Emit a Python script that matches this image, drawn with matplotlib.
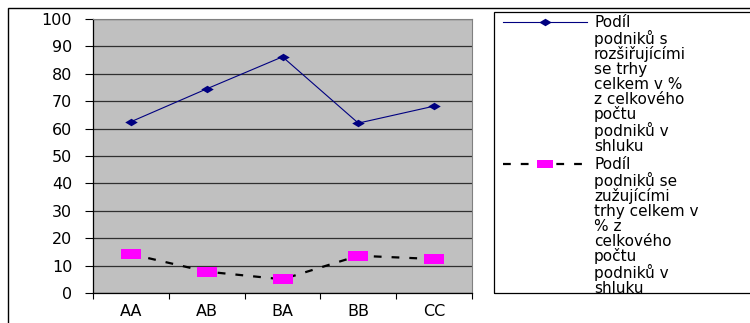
import numpy as np
import matplotlib.pyplot as plt
from matplotlib.patches import Rectangle
from matplotlib.lines import Line2D

categories = ["AA", "AB", "BA", "BB", "CC"]
rostouci = [62.5, 74.5, 86.2, 62.0, 68.2]
zuzujici = [14.2, 7.8, 5.0, 13.6, 12.4]
labels = [
    "Podíl\npodniků s\nrozšiřujícími\nse trhy\ncelkem v %\nz celkového\npočtu\npodniků v\nshluku",
    "Podíl\npodniků se\nzužujícími\ntrhy celkem v\n% z\ncelkového\npočtu\npodniků v\nshluku",
]

plt.rcParams['font.family'] = ['DejaVu Sans']

W, H = 750, 323
fig = plt.figure(figsize=(W / 100, H / 100), dpi=100)

# outer chart frame (runs off the right and bottom edge)
fig.patches.append(Rectangle((8 / W, -0.2), 2, 1.2 - 8 / H, transform=fig.transFigure,
                             fill=False, edgecolor='black', linewidth=1.0))

ax = fig.add_axes([93 / W, 30 / H, 379 / W, 274 / H])
ax.set_facecolor('#c0c0c0')

# flattened marker shapes
diamond = [(-1, 0), (0, 0.6), (1, 0), (0, -0.6), (-1, 0)]
rect = [(-1, -0.5), (1, -0.5), (1, 0.5), (-1, 0.5), (-1, -0.5)]

x = np.arange(len(categories))
ax.plot(x, rostouci, color='#000080', linewidth=0.8,
        marker=diamond, markersize=9, markerfacecolor='#000080', markeredgewidth=0)
ax.plot(x, zuzujici, color='black', linewidth=1.6, linestyle=(0, (3.5, 4.5)),
        marker=rect, markersize=14, markerfacecolor='#ff00ff', markeredgewidth=0)

ax.set_xlim(-0.5, len(categories) - 0.5)
ax.set_ylim(0, 100)
ax.set_yticks(np.arange(0, 101, 10))
ax.set_xticks(x)
ax.set_xticklabels(categories)
ax.set_xticks(np.arange(-0.5, len(categories)), minor=True)
ax.tick_params(axis='x', which='major', length=0, pad=8, labelsize=11.5)
ax.tick_params(axis='x', which='minor', length=4, width=0.8, direction='out')
ax.tick_params(axis='y', length=6, width=0.8, pad=9, labelsize=11.5)

ax.grid(axis='y', color='#303030', linewidth=0.9)
ax.set_axisbelow(True)
for s in ['top', 'right']:
    ax.spines[s].set_color('#808080')
for s in ['left', 'bottom']:
    ax.spines[s].set_color('black')
    ax.spines[s].set_linewidth(0.9)

# legend drawn by hand so the handles sit on the first text line
fig.patches.append(Rectangle((494 / W, 30 / H), 1, 281 / H, transform=fig.transFigure,
                             fill=False, edgecolor='black', linewidth=0.9))
styles = [
    dict(color='#000080', linewidth=0.8, marker=diamond, markersize=9,
         markerfacecolor='#000080', markeredgewidth=0),
    dict(color='black', linewidth=1.6, linestyle=(0, (3.5, 4.5)), marker=rect,
         markersize=12, markerfacecolor='#ff00ff', markeredgewidth=0),
]
tops = [15, 157]
for lab, st, top in zip(labels, styles, tops):
    yline = 1 - (top + 7) / H
    fig.add_artist(Line2D([503 / W, 545 / W, 587 / W], [yline] * 3,
                          transform=fig.transFigure, markevery=[1], **st))
    fig.text(594 / W, 1 - top / H, lab, ha='left', va='top', fontsize=11,
             linespacing=0.98)

fig.savefig('out.png', dpi=100)
